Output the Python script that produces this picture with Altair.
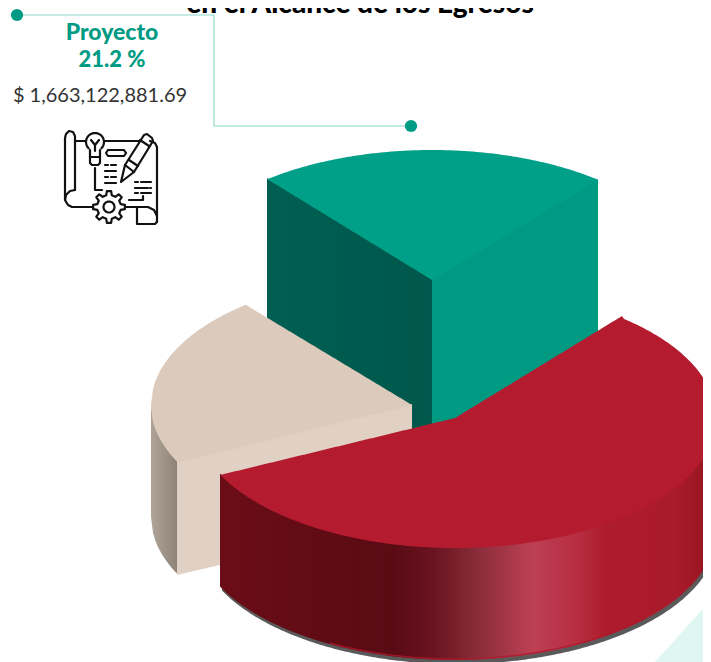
import altair as alt
import pandas as pd

TITLE = "en el Alcance de los Egresos"
LABEL = "Proyecto"
SHARE = "21.2 %"
AMOUNT = "$ 1,663,122,881.69"

# Pie drawn in a flattened view: one ellipse per slice, same radii and depth.
RX, RY, DEPTH = 261, 130, 112
red_c = (455, 418)
green_c = (432, 280)
beige_c = (412, 405)
red_corners = [(220, 475), (622, 316)]
green_corners = [(267, 179), (598, 180)]
beige_corners = [(177, 463), (246, 305)]

mint_x = [655, 711]
mint_top = [662, 600]
mint_bottom = [662, 662]

leader_x = [17, 214, 214, 411]
leader_y = [15, 15, 126, 126]
dots_x = [17, 411]
dots_y = [15, 126]

import math

def circle(cx, cy, r, a0=0, a1=360, n=24):
    return [(cx + r*math.cos(math.radians(a0+(a1-a0)*i/n)), cy + r*math.sin(math.radians(a0+(a1-a0)*i/n))) for i in range(n+1)]

def gear(cx, cy, ro, ri, teeth=8):
    pts = []
    step = 360/teeth
    for t in range(teeth):
        for frac, r in ((-.3, ri), (-.17, ro), (.17, ro), (.3, ri)):
            a = math.radians(t*step + frac*step)
            pts.append((cx + r*math.cos(a), cy + r*math.sin(a)))
    pts.append(pts[0])
    return pts

icon_paths = [
    [(75,190),(75,136),(73,132),(69,131),(66,134),(65,138),(65,200),(68,205),(72,207),(93,207)],
    [(75,190),(70,191),(66,195),(65,200)],
    [(75,141),(86,141)],
    [(105,141),(141,141)],
    [(150,141),(155,143),(157,147),(157,222)],
    [(125,207),(148,207),(154,210),(157,216)],
    [(137,207),(137,224),(155,224),(157,222)],
    circle(95,142,9,135,405),
    [(90,150),(90,163),(92,165),(98,165),(100,163),(100,150)],
    [(90,157),(100,157)],
    [(91,140),(95,145),(99,140)],
    [(95,145),(95,151)],
    [(95,168),(95,190),(102,190)],
    [(108,150),(124,150),(126,153),(124,156),(108,156),(106,153),(108,150)],
    [(105,165),(108,165)],[(111,165),(116,165)],
    [(105,171),(116,171)],
    [(105,177),(108,177)],[(111,177),(116,177)],
    [(105,183),(116,183)],
    [(135,182),(138,182)],[(141,182),(151,182)],
    [(135,188),(148,188)],[(150,188),(151,188)],
    [(135,193),(138,193)],[(141,193),(151,193)],
    [(143,196),(143,200),(129,200)],
    [(121,182),(125,165),(144,135),(147,134),(152,138),(153,141),(134,172),(121,182)],
    [(125,165),(134,172)],
    [(129,160),(138,166)],
    [(140,140),(149,146)],
    gear(109,207,16,12),
    circle(109,207,5.5),
]

def rim_y(c, x, sign):
    t = max(0.0, 1 - ((x - c[0]) / RX) ** 2)
    return c[1] + sign * RY * math.sqrt(t)

def chord(p, q, x):
    return p[1] + (q[1] - p[1]) * (x - p[0]) / (q[0] - p[0])

def span(x0, x1, extra=()):
    xs = set(float(v) for v in range(int(x0), int(x1) + 1, 2))
    xs.update(float(v) for v in extra)
    xs.update([float(x0), float(x1)])
    return sorted(xs)

# Red slice
rc0, rc1 = red_corners
red_xs = span(rc0[0], red_c[0] + RX, [red_c[0], rc1[0]])
def red_up(x):
    if x <= red_c[0]:
        return chord(rc0, red_c, x)
    if x <= rc1[0]:
        return chord(red_c, rc1, x)
    return rim_y(red_c, x, -1)
red_top = [red_up(x) for x in red_xs]
red_ridge = [rim_y(red_c, x, 1) for x in red_xs]
red_floor = [v + DEPTH for v in red_ridge]

# Green slice
gc0, gc1 = green_corners
green_xs = span(gc0[0], gc1[0], [green_c[0]])
green_top = [rim_y(green_c, x, -1) for x in green_xs]
green_low = [chord(gc0, green_c, x) if x <= green_c[0] else chord(green_c, gc1, x) for x in green_xs]
green_left_xs = [gc0[0], green_c[0]]
green_left_top = [gc0[1] - 1, green_c[1] - 1]
green_left_bottom = [430, 430]
green_right_xs = [green_c[0], gc1[0]]
green_right_top = [green_c[1] - 1, gc1[1] - 1]
green_right_bottom = [440, 340]

# Beige slice
bc0, bc1 = beige_corners
beige_xs = span(beige_c[0] - RX, beige_c[0], [bc0[0], bc1[0]])
beige_up = [rim_y(beige_c, x, -1) if x <= bc1[0] else chord(bc1, beige_c, x) for x in beige_xs]
beige_low = [rim_y(beige_c, x, 1) if x <= bc0[0] else chord(bc0, beige_c, x) for x in beige_xs]
beige_side_xs = span(beige_c[0] - RX, bc0[0])
beige_side_top = [rim_y(beige_c, x, 1) - 1 for x in beige_side_xs]
beige_side_bottom = [v + 1 + DEPTH for v in beige_side_top]
beige_front_xs = [bc0[0], beige_c[0]]
beige_front_top = [bc0[1] - 1, beige_c[1] - 1]
beige_front_bottom = [bc0[1] + DEPTH, 520]

X = alt.Scale(domain=[8, 703], nice=False, zero=False)
Y = alt.Scale(domain=[662, 8], nice=False, zero=False)
x_enc = alt.X("x:Q", scale=X, axis=None)
y_enc = alt.Y("y:Q", scale=Y, axis=None)

def face(xs, top, bottom, fill, dx=0, dy=0):
    df = pd.DataFrame({"x": [v+dx for v in xs], "y": [v+dy for v in top], "y2": [v+dy for v in bottom]})
    return alt.Chart(df).mark_area(color=fill, orient="vertical", interpolate="linear", clip=True).encode(
        x=x_enc, y=y_enc, y2="y2:Q")

def horiz(stops):
    return alt.Gradient(gradient="linear", x1=0, x2=1, y1=0, y2=0,
                        stops=[alt.GradientStop(color=c, offset=o) for o, c in stops])

def text(label, x, y, size, color, weight="normal", font="Lato"):
    df = pd.DataFrame({"x": [x], "y": [y], "t": [label]})
    return alt.Chart(df).mark_text(fontSize=size, color=color, fontWeight=weight, font=font,
                                   align="center", baseline="alphabetic", clip=True).encode(
        x=x_enc, y=y_enc, text="t:N")

red_side_fill = horiz([(0,"#6b0d17"),(0.35,"#590b14"),(0.43,"#6a1320"),(0.52,"#8a2d3a"),
                       (0.63,"#bd4053"),(0.72,"#b82d42"),(0.78,"#ad1c2d"),(0.92,"#a91a2a"),(1,"#94141f")])
beige_side_fill = horiz([(0,"#b0a499"),(1,"#8e8378")])
green_dark_fill = horiz([(0,"#005f52"),(1,"#00574b")])

layers = [
    face(mint_x, mint_top, mint_bottom, "#dff6f2"),
    face(green_right_xs, green_right_top, green_right_bottom, "#009a83"),
    face(green_left_xs, green_left_top, green_left_bottom, green_dark_fill),
    face(green_xs, green_top, green_low, "#00a088"),
    face(beige_side_xs, beige_side_top, beige_side_bottom, beige_side_fill),
    face(beige_front_xs, beige_front_top, beige_front_bottom, "#e0d1c4"),
    face(beige_xs, beige_up, beige_low, "#dccbbc"),
    face(red_xs, red_ridge, red_floor, "#5a5a5a", dx=2, dy=4),
    face(red_xs, [v - 1 for v in red_ridge], red_floor, red_side_fill),
    face(red_xs, red_top, red_ridge, "#b41b2e"),
]

rim_xs = [x for x in red_xs if 330 <= x <= 640]
rim = pd.DataFrame({"x": rim_xs, "y": [rim_y(red_c, x, 1) + DEPTH - 1 for x in rim_xs]})
layers.append(alt.Chart(rim).mark_line(color="#b0182b", strokeWidth=1.5, opacity=0.8, clip=True).encode(
    x=x_enc, y=y_enc, order="x:Q"))

leader = pd.DataFrame({"x": leader_x, "y": leader_y, "i": range(len(leader_x))})
layers.append(alt.Chart(leader).mark_line(color="#8cd9c9", strokeWidth=1.2).encode(x=x_enc, y=y_enc, order="i:Q"))
dots = pd.DataFrame({"x": dots_x, "y": dots_y})
layers.append(alt.Chart(dots).mark_circle(color="#009b84", size=150, opacity=1).encode(x=x_enc, y=y_enc))

icon_rows = [{"x": px, "y": py, "g": g, "i": i}
             for g, path in enumerate(icon_paths) for i, (px, py) in enumerate(path)]
layers.append(alt.Chart(pd.DataFrame(icon_rows)).mark_line(color="#111111", strokeWidth=2.2, strokeCap="round", strokeJoin="round").encode(
    x=x_enc, y=y_enc, detail="g:N", order="i:Q"))

layers += [
    text(TITLE, 360, 13, 28, "#000000", 900),
    text(LABEL, 112, 40, 23, "#009b84", 900),
    text(SHARE, 112, 67, 22, "#009b84", 900),
    text(AMOUNT, 100, 102, 20, "#333333", "normal"),
]

chart = alt.layer(*layers).properties(
    width=695, height=654, padding=0, background="white", autosize=alt.AutoSizeParams(type="none")
).configure_view(stroke=None)

chart.save("out.html", embed_options={"renderer": "svg", "actions": False})
